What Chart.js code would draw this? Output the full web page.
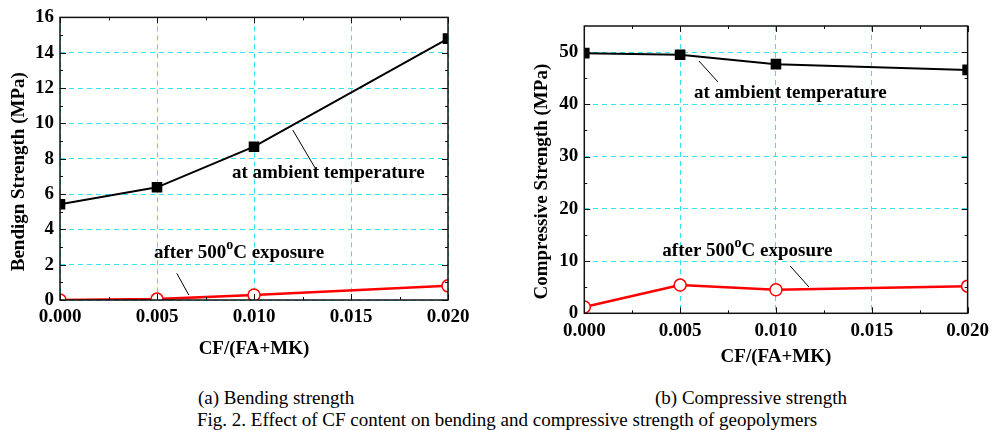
<!DOCTYPE html>
<html lang="en">
<head>
<meta charset="UTF-8" />
<title>Effect of CF content on geopolymer strength</title>
<script src="https://cdn.jsdelivr.net/npm/chart.js"></script>
<style>
  body {
    margin: 0;
    width: 995px;
    height: 430px;
    background: #fff;
    position: relative;
    overflow: hidden;
    font-family: 'Liberation Serif', 'Times New Roman', serif;
    color: #000;
  }
  .box { position: absolute; top: 0; }
  #boxA { left: 0; width: 480px; height: 375px; }
  #boxB { left: 500px; width: 495px; height: 375px; }
  .cap {
    position: absolute;
    font-size: 19px;
    line-height: 22px;
    white-space: nowrap;
  }
</style>
</head>
<body>
<div class="box" id="boxA"><canvas id="bendChart"></canvas></div>
<div class="box" id="boxB"><canvas id="compChart"></canvas></div>

<div class="cap" style="left:198px; top:387px;">(a) Bending strength</div>
<div class="cap" style="left:655px; top:387px;">(b) Compressive strength</div>
<div class="cap" style="left:197px; top:409px;">Fig. 2. Effect of CF content on bending and compressive strength of geopolymers</div>

<script>
// values
const cfRatio = [0.000, 0.005, 0.010, 0.020];
const bendAmbient = [5.42, 6.38, 8.68, 14.8];
const bend500 = [0.0, 0.05, 0.28, 0.8];
const compAmbient = [49.8, 49.5, 47.7, 46.6];
const comp500 = [1.2, 5.4, 4.5, 5.2];

const xTicks = [0.000, 0.005, 0.010, 0.015, 0.020];
const bendTicks = [0, 2, 4, 6, 8, 10, 12, 14, 16];
const compTicks = [0, 10, 20, 30, 40, 50];

const SERIF = "'Liberation Serif', 'Times New Roman', serif";

// frame, inward ticks, axis titles and the leader-line notes
const figureDecor = {
  id: 'figureDecor',
  afterDatasetsDraw(chart) {
    const { ctx, chartArea: a, scales: { x, y } } = chart;
    const mids = arr => arr.slice(1).map((v, i) => (v + arr[i]) / 2);
    const xt = x.ticks.map(t => t.value);
    const yt = y.ticks.map(t => t.value);
    ctx.save();
    ctx.strokeStyle = '#111';
    ctx.lineWidth = 1;
    ctx.beginPath();
    [[xt, 6], [mids(xt), 3]].forEach(([vals, len]) => vals.forEach(v => {
      const px = Math.round(x.getPixelForValue(v)) + 0.5;
      ctx.moveTo(px, a.bottom); ctx.lineTo(px, a.bottom - len);
      ctx.moveTo(px, a.top); ctx.lineTo(px, a.top + len);
    }));
    [[yt, 6], [mids(yt), 3]].forEach(([vals, len]) => vals.forEach(v => {
      const py = Math.round(y.getPixelForValue(v)) + 0.5;
      ctx.moveTo(a.left, py); ctx.lineTo(a.left + len, py);
      ctx.moveTo(a.right, py); ctx.lineTo(a.right - len, py);
    }));
    ctx.stroke();
    ctx.lineWidth = 1.5;
    ctx.strokeRect(a.left, a.top, a.right - a.left, a.bottom - a.top);
    ctx.restore();
  },
  afterDraw(chart, args, opts) {
    const { ctx, chartArea: a, scales: { x, y } } = chart;
    ctx.save();
    ctx.fillStyle = '#000';
    ctx.font = 'bold 19px ' + SERIF;
    ctx.textAlign = 'center';
    ctx.textBaseline = 'middle';
    ctx.fillText(opts.xTitle, (a.left + a.right) / 2, a.bottom + opts.xTitleGap);
    ctx.save();
    ctx.translate(opts.yTitleX, (a.top + a.bottom) / 2 + opts.yTitleShift);
    ctx.rotate(-Math.PI / 2);
    ctx.fillText(opts.yTitle, 0, 0);
    ctx.restore();

    ctx.textAlign = 'left';
    ctx.textBaseline = 'alphabetic';
    opts.notes.forEach(n => {
      let px = x.getPixelForValue(n.at[0]);
      const py = y.getPixelForValue(n.at[1]);
      n.parts.forEach(p => {
        ctx.font = (p.sup ? 'bold 14px ' : 'bold 19px ') + SERIF;
        ctx.fillText(p.t, px, p.sup ? py - 9 : py);
        px += ctx.measureText(p.t).width;
      });
      ctx.strokeStyle = '#000';
      ctx.lineWidth = 1;
      ctx.beginPath();
      ctx.moveTo(x.getPixelForValue(n.leader[0]), y.getPixelForValue(n.leader[1]));
      ctx.lineTo(x.getPixelForValue(n.leader[2]), y.getPixelForValue(n.leader[3]));
      ctx.stroke();
    });
    ctx.restore();
  }
};

function makeChart(id, ambient, heated, yTicks, yMax, frame, deco) {
  const tickFont = { family: SERIF, size: 19, weight: 'bold' };
  return new Chart(document.getElementById(id), {
    type: 'line',
    data: {
      datasets: [
        {
          label: 'after 500°C exposure',
          data: cfRatio.map((v, i) => ({ x: v, y: heated[i] })),
          borderColor: '#ff0000',
          borderWidth: 2.5,
          pointStyle: 'circle',
          pointRadius: 6,
          pointBorderWidth: 1.5,
          pointBackgroundColor: '#ffffff',
          pointBorderColor: '#ff0000',
          clip: 0
        },
        {
          label: 'at ambient temperature',
          data: cfRatio.map((v, i) => ({ x: v, y: ambient[i] })),
          borderColor: '#000000',
          borderWidth: 2,
          pointStyle: 'rect',
          pointRadius: 7.5,
          pointBorderWidth: 0,
          pointBackgroundColor: '#000000',
          clip: 0
        }
      ]
    },
    options: {
      responsive: true,
      maintainAspectRatio: false,
      animation: false,
      events: [],
      layout: { padding: { top: frame.top, right: frame.right, left: 0, bottom: 0 } },
      plugins: {
        legend: { display: false },
        tooltip: { enabled: false },
        figureDecor: deco
      },
      scales: {
        x: {
          type: 'linear',
          min: 0,
          max: 0.02,
          afterBuildTicks: s => { s.ticks = xTicks.map(v => ({ value: v })); },
          afterFit: s => { s.height = frame.xHeight; },
          ticks: { font: tickFont, color: '#000', padding: 6, callback: v => v.toFixed(3) },
          grid: { color: '#2ee6f0', lineWidth: 1, tickLength: 0, drawTicks: false },
          border: { display: false, dash: [5, 4] }
        },
        y: {
          type: 'linear',
          min: 0,
          max: yMax,
          afterBuildTicks: s => { s.ticks = yTicks.map(v => ({ value: v })); },
          afterFit: s => { s.width = frame.yWidth; },
          ticks: { font: tickFont, color: '#000', padding: 6 },
          grid: { color: '#2ee6f0', lineWidth: 1, tickLength: 0, drawTicks: false },
          border: { display: false, dash: [5, 4] }
        }
      }
    },
    plugins: [figureDecor]
  });
}

makeChart('bendChart', bendAmbient, bend500, bendTicks, 16,
  { top: 14, right: 32, xHeight: 75, yWidth: 60 },
  {
    xTitle: 'CF/(FA+MK)', xTitleGap: 49,
    yTitle: 'Bendign Strength (MPa)', yTitleX: 19, yTitleShift: 13,
    notes: [
      { parts: [{ t: 'at ambient temperature' }], at: [0.00886, 6.88], leader: [0.0120, 9.62, 0.0132, 7.38] },
      { parts: [{ t: 'after 500' }, { t: 'o', sup: true }, { t: 'C exposure' }], at: [0.00484, 2.35], leader: [0.00602, 1.51, 0.00664, 0.28] }
    ]
  });

makeChart('compChart', compAmbient, comp500, compTicks, 55,
  { top: 26, right: 24, xHeight: 61.7, yWidth: 84.3 },
  {
    xTitle: 'CF/(FA+MK)', xTitleGap: 44,
    yTitle: 'Compressive Strength (MPa)', yTitleX: 42.5, yTitleShift: 12,
    notes: [
      { parts: [{ t: 'at ambient temperature' }], at: [0.00572, 41.25], leader: [0.00598, 48.3, 0.00697, 44.3] },
      { parts: [{ t: 'after 500' }, { t: 'o', sup: true }, { t: 'C exposure' }], at: [0.00407, 11.0], leader: [0.01074, 9.06, 0.01172, 5.04] }
    ]
  });
</script>
</body>
</html>
